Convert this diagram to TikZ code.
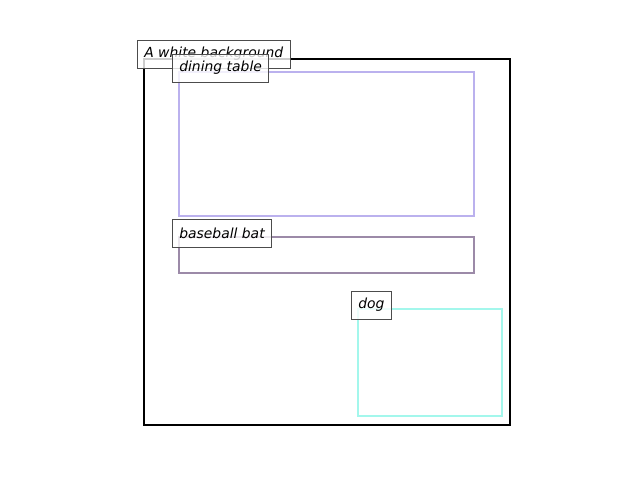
\documentclass[tikz,border=0pt]{standalone}
\usepackage{fontspec}
\setmainfont{DejaVu Sans}
\begin{document}
\begin{tikzpicture}[x=1pt,y=-1pt,
  lbl/.style={draw=black!70,fill=white,fill opacity=0.8,text opacity=1,line width=1pt,inner xsep=6.8pt,inner ysep=0pt,minimum height=28pt,font=\fontsize{13.9}{16}\selectfont\itshape,anchor=south west},
  bbox/.style={line width=2.6pt}]
\useasboundingbox (0,0) rectangle (640,480);
\definecolor{tablec}{HTML}{BBB1EE}
\definecolor{batc}{HTML}{9C8AA8}
\definecolor{dogc}{HTML}{A3F7EC}
\draw[line width=2pt,line join=miter] (144,59) rectangle (510,425);
\draw[bbox,tablec] (179,72) rectangle (474,216);
\draw[bbox,batc] (179,237) rectangle (474,273);
\draw[bbox,dogc] (358,309) rectangle (502,416);
\node[lbl] (bg) at (137,68.5) {A white background};
\node[lbl] (table) at (172,82.5) {dining table};
\node[lbl] (bat) at (172,247.5) {baseball bat};
\node[lbl] (dog) at (351,319.5) {dog};
\end{tikzpicture}
\end{document}
